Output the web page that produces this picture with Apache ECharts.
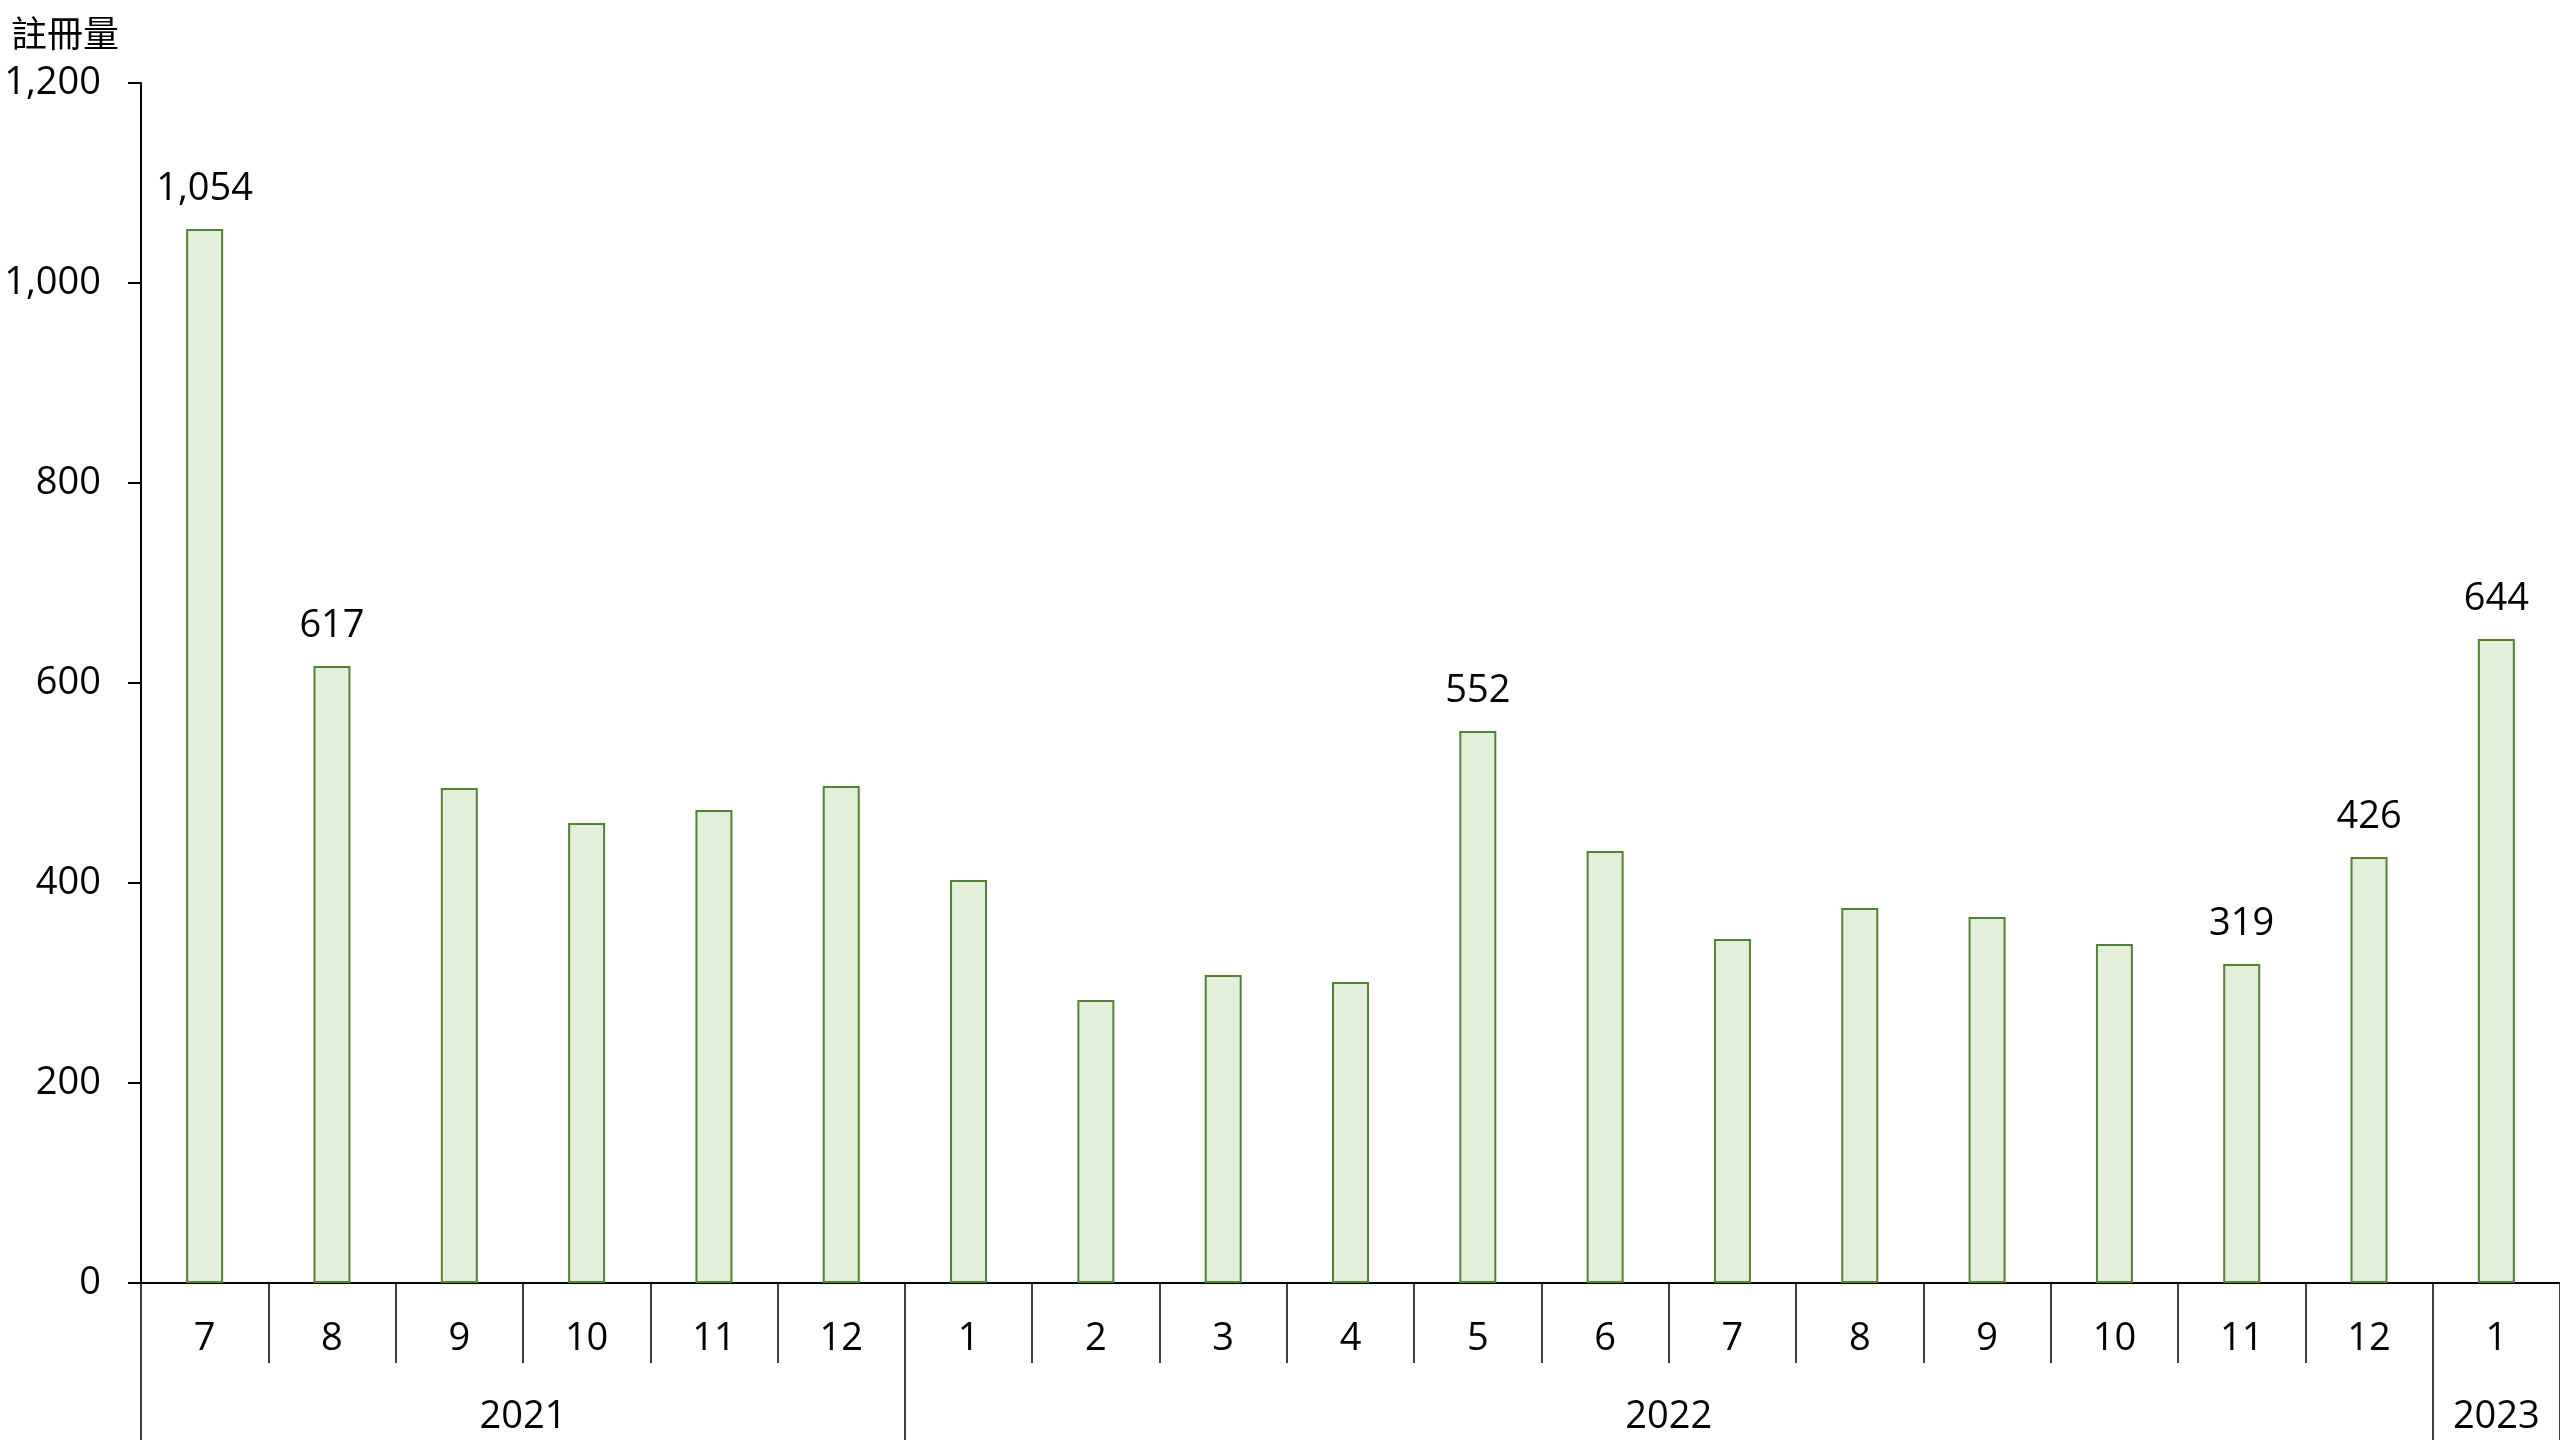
<!DOCTYPE html>
<html>
<head>
<meta charset="utf-8">
<script src="https://cdn.jsdelivr.net/npm/echarts@6/dist/echarts.min.js"></script>
<style>
html,body{margin:0;padding:0;background:#fff;}
#chart{width:2560px;height:1440px;}
</style>
</head>
<body>
<div id="chart"></div>
<script>
// Data
const months = ['7','8','9','10','11','12','1','2','3','4','5','6','7','8','9','10','11','12','1'];
const years  = ['2021','2021','2021','2021','2021','2021','2022','2022','2022','2022','2022','2022','2022','2022','2022','2022','2022','2022','2023'];
const values = [1054, 617, 495, 460, 473, 497, 403, 283, 308, 301, 552, 432, 344, 375, 366, 339, 319, 426, 644];
const labeled = [true, true, false, false, false, false, false, false, false, false, true, false, false, false, false, false, true, true, true];
const yTicks = [0, 200, 400, 600, 800, 1000, 1200];
const yName = '註冊量';

// Year groups derived from per-category years
const groups = [];
years.forEach((y, i) => {
  if (!groups.length || groups[groups.length - 1].year !== y) groups.push({year: y, start: i, end: i + 1});
  else groups[groups.length - 1].end = i + 1;
});
const boundaries = [0].concat(groups.map(g => g.end));
const centers = groups.map(g => (g.start + g.end) / 2);
const centerToYear = {};
groups.forEach((g, i) => { centerToYear[centers[i]] = g.year; });

const FONT = "'Open Sans', 'Noto Sans CJK TC', sans-serif";
const chart = echarts.init(document.getElementById('chart'));
chart.setOption({
  animation: false,
  backgroundColor: '#ffffff',
  textStyle: {fontFamily: FONT},
  grid: {left: 141, right: 0, top: 83, bottom: 157, containLabel: false},
  xAxis: [
    {
      type: 'category',
      data: months,
      boundaryGap: true,
      axisLine: {show: true, lineStyle: {color: '#000', width: 2}},
      axisTick: {show: true, interval: 0, length: 80, lineStyle: {color: '#000', width: 1.5}},
      axisLabel: {interval: 0, color: '#000', fontSize: 38, fontFamily: FONT, margin: 37},
      splitLine: {show: false}
    },
    {
      type: 'value',
      position: 'bottom',
      min: 0,
      max: months.length,
      axisLine: {show: false},
      axisTick: {show: true, customValues: boundaries, length: 160, lineStyle: {color: '#000', width: 1.5}},
      axisLabel: {
        customValues: centers, color: '#000', fontSize: 38, fontFamily: FONT, margin: 115,
        formatter: v => centerToYear[v] || ''
      },
      splitLine: {show: false}
    }
  ],
  yAxis: {
    type: 'value',
    min: yTicks[0],
    max: yTicks[yTicks.length - 1],
    interval: yTicks[1] - yTicks[0],
    name: yName,
    nameLocation: 'end',
    nameGap: 28,
    nameTextStyle: {color: '#000', fontSize: 36, fontFamily: FONT, align: 'right', padding: [0, 22, 0, 0]},
    axisLine: {show: true, lineStyle: {color: '#000', width: 2}},
    axisTick: {show: true, length: 13, lineStyle: {color: '#000', width: 2}},
    axisLabel: {color: '#000', fontSize: 38, fontFamily: FONT, margin: 40,
      formatter: v => v.toLocaleString('en-US')},
    splitLine: {show: false}
  },
  series: [{
    type: 'bar',
    xAxisIndex: 0,
    barWidth: 37,
    data: values.map((v, i) => ({
      value: v,
      label: {show: labeled[i]}
    })),
    itemStyle: {color: '#E2EFD9', borderColor: '#548235', borderWidth: 2},
    label: {
      position: 'top', distance: 21, color: '#000', fontSize: 38, fontFamily: FONT,
      formatter: p => p.value.toLocaleString('en-US')
    }
  }]
});
</script>
</body>
</html>
